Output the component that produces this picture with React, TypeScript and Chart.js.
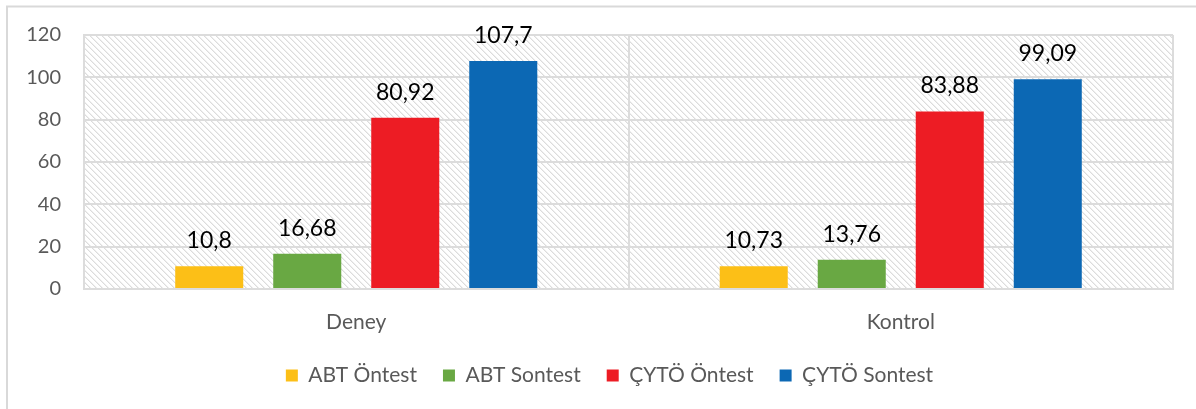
import React, { useEffect, useRef } from "react";
import { Chart, registerables } from "chart.js";

Chart.register(...registerables);

const categories = ["Deney", "Kontrol"];
const seriesLabels = ["ABT Öntest", "ABT Sontest", "ÇYTÖ Öntest", "ÇYTÖ Sontest"];
const abtOntest = [10.8, 10.73];
const abtSontest = [16.68, 13.76];
const cytoOntest = [80.92, 83.88];
const cytoSontest = [107.7, 99.09];
const seriesColors = ["#FCBF17", "#69A843", "#ED1C24", "#0C68B4"];
const yTicks = [0, 20, 40, 60, 80, 100, 120];

const FONT = "Lato, 'Open Sans', sans-serif";

function makePattern(ctx: CanvasRenderingContext2D) {
  const tile = document.createElement("canvas");
  const n = 6;
  tile.width = n;
  tile.height = n;
  const t = tile.getContext("2d")!;
  t.fillStyle = "#ffffff";
  t.fillRect(0, 0, n, n);
  for (let y = 0; y < n; y++) {
    for (let x = 0; x < n; x++) {
      const d = (((x - y) % n) + n) % n;
      if (d === 0) {
        t.fillStyle = "#dcdcdc";
        t.fillRect(x, y, 1, 1);
      } else if (d === 1) {
        t.fillStyle = "#efefef";
        t.fillRect(x, y, 1, 1);
      }
    }
  }
  return ctx.createPattern(tile, "repeat");
}

const backgroundPlugin = {
  id: "bgHatch",
  afterLayout(chart: any) {
    const lg = chart.legend;
    if (lg) {
      lg.left += 23;
      lg.right += 23;
    }
  },
  beforeDraw(chart: any) {
    const { ctx, chartArea } = chart;
    ctx.save();
    ctx.fillStyle = "#ffffff";
    ctx.fillRect(0, 0, chart.width, chart.height);
    ctx.strokeStyle = "#d9d9d9";
    ctx.lineWidth = 2;
    ctx.strokeRect(7, 6.5, chart.width + 20, chart.height + 20);
    const pat = makePattern(ctx);
    if (pat) {
      ctx.fillStyle = pat;
      ctx.fillRect(chartArea.left, chartArea.top, chartArea.right - chartArea.left, chartArea.bottom - chartArea.top);
    }
    ctx.restore();
  },
};

const dataLabelPlugin = {
  id: "dataLabels",
  afterDatasetsDraw(chart: any) {
    const { ctx } = chart;
    ctx.save();
    ctx.font = `23px ${FONT}`;
    ctx.fillStyle = "#000000";
    ctx.textAlign = "center";
    ctx.textBaseline = "alphabetic";
    chart.data.datasets.forEach((ds: any, i: number) => {
      const meta = chart.getDatasetMeta(i);
      meta.data.forEach((bar: any, j: number) => {
        const v = ds.data[j];
        ctx.fillText(String(v).replace(".", ","), bar.x, bar.y - 18);
      });
    });
    ctx.restore();
  },
};

export default function App() {
  const ref = useRef<HTMLCanvasElement>(null);
  useEffect(() => {
    if (!ref.current) return;
    const values = [abtOntest, abtSontest, cytoOntest, cytoSontest];
    const chart = new Chart(ref.current, {
      type: "bar",
      data: {
        labels: categories,
        datasets: seriesLabels.map((label, i) => ({
          label,
          data: values[i],
          backgroundColor: seriesColors[i],
          borderWidth: 0,
          categoryPercentage: 0.72,
          barPercentage: 0.694,
        })),
      },
      options: {
        responsive: false,
        animation: false,
        layout: { padding: { top: 35, right: 23, left: 0, bottom: 13 } },
        plugins: {
          tooltip: { enabled: false },
          legend: {
            position: "bottom",
            labels: {
              boxWidth: 12,
              boxHeight: 12,
              padding: 26,
              color: "#595959",
              font: { family: FONT, size: 21 },
            },
          },
        },
        scales: {
          x: {
            grid: { color: "#dcdcdc", lineWidth: 2, drawTicks: false, offset: true },
            border: { color: "#dcdcdc", width: 2 },
            ticks: { color: "#595959", font: { family: FONT, size: 21 }, padding: 21 },
            afterFit(scale: any) {
              scale.height = 50;
            },
          },
          y: {
            min: 0,
            max: 120,
            afterBuildTicks(scale: any) {
              scale.ticks = yTicks.map((v) => ({ value: v }));
            },
            grid: { color: "#dcdcdc", lineWidth: 2, drawTicks: false },
            border: { color: "#dcdcdc", width: 2 },
            ticks: { color: "#595959", font: { family: FONT, size: 20 }, padding: 23 },
            afterFit(scale: any) {
              scale.width = 84;
            },
          },
        },
      },
      plugins: [backgroundPlugin, dataLabelPlugin],
    } as any);
    return () => chart.destroy();
  }, []);
  return (
    <div style={{ position: "absolute", left: 0, top: 0, width: 1196, height: 409 }}>
      <canvas ref={ref} width={1196} height={409} />
    </div>
  );
}
